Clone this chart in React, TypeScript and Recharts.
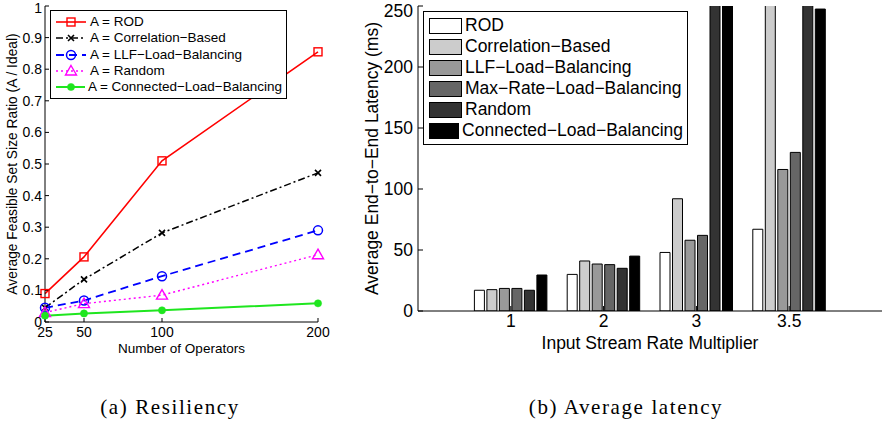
import React from "react";
import { LineChart, Line, BarChart, Bar, XAxis, YAxis, Legend } from "recharts";

// (a) resiliency: ratio of feasible set sizes vs number of operators
const operators = [25, 50, 100, 200];
const rodRatio = [0.09, 0.206, 0.51, 0.855];
const correlationRatio = [0.045, 0.135, 0.282, 0.472];
const llfRatio = [0.045, 0.068, 0.145, 0.29];
const randomRatio = [0.03, 0.058, 0.085, 0.213];
const connectedRatio = [0.02, 0.027, 0.037, 0.059];
const ratioTicks = [0, 0.1, 0.2, 0.3, 0.4, 0.5, 0.6, 0.7, 0.8, 0.9, 1];

// (b) average latency (ms) vs input rate multiplier (values > 250 run off the axis)
const rates = ["1", "2", "3", "3.5"];
const rodLatency = [17, 30, 48, 67];
const correlationLatency = [17.5, 41, 92, 300];
const llfLatency = [18.5, 38.5, 58, 116];
const maxRateLatency = [18.5, 38, 62, 130];
const randomLatency = [17, 35, 300, 300];
const connectedLatency = [29.5, 45, 300, 247.5];
const latencyTicks = [0, 50, 100, 150, 200, 250];

const ratioData = operators.map((ops, i) => ({
  ops,
  rod: rodRatio[i],
  correlation: correlationRatio[i],
  llf: llfRatio[i],
  random: randomRatio[i],
  connected: connectedRatio[i],
}));

const latencyData = rates.map((rate, i) => ({
  rate,
  rod: rodLatency[i],
  correlation: correlationLatency[i],
  llf: llfLatency[i],
  maxRate: maxRateLatency[i],
  random: randomLatency[i],
  connected: connectedLatency[i],
}));

const SANS = "'Liberation Sans', Arial, Helvetica, sans-serif";
const MINUS = "\u2212";

type MarkerType = "square" | "x" | "circle" | "triangle" | "dot";

const lineSeries: { key: string; name: string; color: string; dash?: string; width: number; marker: MarkerType }[] = [
  { key: "rod", name: "A = ROD", color: "#ff0000", width: 1.6, marker: "square" },
  { key: "correlation", name: `A = Correlation${MINUS}Based`, color: "#000000", dash: "7 3 2 3", width: 1.5, marker: "x" },
  { key: "llf", name: `A = LLF${MINUS}Load${MINUS}Balancing`, color: "#0000ff", dash: "8 5", width: 1.8, marker: "circle" },
  { key: "random", name: "A = Random", color: "#ff00ff", dash: "2 3", width: 1.4, marker: "triangle" },
  { key: "connected", name: `A = Connected${MINUS}Load${MINUS}Balancing`, color: "#1fe61f", width: 2, marker: "dot" },
];

const barSeries = [
  { key: "rod", name: "ROD", fill: "#ffffff" },
  { key: "correlation", name: `Correlation${MINUS}Based`, fill: "#cccccc" },
  { key: "llf", name: `LLF${MINUS}Load${MINUS}Balancing`, fill: "#999999" },
  { key: "maxRate", name: `Max${MINUS}Rate${MINUS}Load${MINUS}Balancing`, fill: "#666666" },
  { key: "random", name: "Random", fill: "#333333" },
  { key: "connected", name: `Connected${MINUS}Load${MINUS}Balancing`, fill: "#000000" },
];

function Marker({ type, cx, cy, color }: { type: MarkerType; cx: number; cy: number; color: string }) {
  switch (type) {
    case "square":
      return <rect x={cx - 4} y={cy - 4} width={8} height={8} fill="none" stroke={color} strokeWidth={1.4} />;
    case "x":
      return (
        <path
          d={`M${cx - 3},${cy - 3}L${cx + 3},${cy + 3}M${cx - 3},${cy + 3}L${cx + 3},${cy - 3}`}
          stroke={color}
          strokeWidth={1.6}
          fill="none"
        />
      );
    case "circle":
      return <circle cx={cx} cy={cy} r={4.5} fill="none" stroke={color} strokeWidth={1.5} />;
    case "triangle":
      return <path d={`M${cx},${cy - 5.5}L${cx + 5.5},${cy + 4}L${cx - 5.5},${cy + 4}Z`} fill="none" stroke={color} strokeWidth={1.4} />;
    default:
      return <circle cx={cx} cy={cy} r={3.6} fill={color} stroke={color} strokeWidth={0.5} />;
  }
}

function RatioLegend() {
  return (
    <div
      style={{
        border: "1.5px solid #000",
        background: "#fff",
        padding: "3px 4px 3px 4px",
        fontFamily: SANS,
        fontSize: 13.5,
        lineHeight: "16.3px",
        boxSizing: "border-box",
      }}
    >
      {lineSeries.map((s) => (
        <div key={s.key} style={{ display: "flex", alignItems: "center", whiteSpace: "nowrap" }}>
          <svg width={32} height={14} style={{ marginRight: 3 }}>
            <line x1={1} y1={7} x2={31} y2={7} stroke={s.color} strokeWidth={s.width} strokeDasharray={s.dash} />
            <Marker type={s.marker} cx={16} cy={7} color={s.color} />
          </svg>
          <span>{s.name}</span>
        </div>
      ))}
    </div>
  );
}

function LatencyLegend() {
  return (
    <div
      style={{
        border: "1.5px solid #000",
        background: "#fff",
        padding: "3px 4px 3px 5px",
        fontFamily: SANS,
        fontSize: 17.5,
        lineHeight: "21px",
        boxSizing: "border-box",
      }}
    >
      {barSeries.map((s) => (
        <div key={s.key} style={{ display: "flex", alignItems: "center", whiteSpace: "nowrap" }}>
          <span
            style={{
              display: "inline-block",
              width: 31,
              height: 14,
              background: s.fill,
              border: "1.5px solid #000",
              marginRight: 3,
            }}
          />
          <span>{s.name}</span>
        </div>
      ))}
    </div>
  );
}

function ResiliencyChart() {
  return (
    <LineChart
      width={330}
      height={360}
      data={ratioData}
      margin={{ top: 6, right: 12, bottom: 0, left: 0 }}
      style={{ fontFamily: SANS }}
    >
      <XAxis
        dataKey="ops"
        type="number"
        domain={[25, 200]}
        ticks={operators}
        height={38}
        stroke="#000"
        tickSize={-4}
        tickMargin={9}
        tick={{ fill: "#000", fontSize: 14 }}
        label={{ value: "Number of Operators", position: "insideBottom", offset: 7, fill: "#000", fontSize: 13.5 }}
      />
      <XAxis
        xAxisId="top"
        orientation="top"
        dataKey="ops"
        type="number"
        domain={[25, 200]}
        ticks={operators}
        height={0}
        stroke="#000"
        tickSize={-4}
        tick={false}
      />
      <YAxis
        type="number"
        domain={[0, 1]}
        ticks={ratioTicks}
        width={45}
        stroke="#000"
        tickSize={-4}
        tickMargin={7}
        tick={{ fill: "#000", fontSize: 14 }}
        label={{
          value: "Average Feasible Set Size Ratio (A / Ideal)",
          angle: -90,
          position: "insideLeft",
          offset: 12,
          fill: "#000",
          fontSize: 13.8,
          style: { textAnchor: "middle" },
        }}
      />
      <YAxis
        yAxisId="right"
        orientation="right"
        type="number"
        domain={[0, 1]}
        ticks={ratioTicks}
        width={0}
        stroke="#000"
        tickSize={-4}
        tick={false}
      />
      <Legend
        layout="vertical"
        align="center"
        verticalAlign="middle"
        content={() => <RatioLegend />}
        wrapperStyle={{ position: "absolute", left: 50, top: 10, width: 237, height: 87 }}
      />
      {lineSeries.map((s) => (
        <Line
          key={s.key}
          dataKey={s.key}
          name={s.name}
          type="linear"
          stroke={s.color}
          strokeWidth={s.width}
          strokeDasharray={s.dash}
          isAnimationActive={false}
          dot={(p: any) => <Marker key={`${s.key}-${p.index}`} type={s.marker} cx={p.cx} cy={p.cy} color={s.color} />}
        />
      ))}
    </LineChart>
  );
}

function LatencyChart() {
  return (
    <BarChart
      width={525}
      height={360}
      data={latencyData}
      margin={{ top: 6, right: 3, bottom: 0, left: 0 }}
      barSize={10}
      barGap={2.5}
      style={{ fontFamily: SANS }}
    >
      <XAxis
        dataKey="rate"
        padding={{ left: 46.4, right: 46.4 }}
        height={49}
        stroke="#000"
        tickSize={-5}
        tickMargin={9}
        tick={{ fill: "#000", fontSize: 17.5 }}
        label={{ value: "Input Stream Rate Multiplier", position: "insideBottom", offset: 11, fill: "#000", fontSize: 17.5 }}
      />
      <XAxis
        xAxisId="top"
        orientation="top"
        dataKey="rate"
        padding={{ left: 46.4, right: 46.4 }}
        height={0}
        stroke="#000"
        tickSize={-5}
        tick={false}
      />
      <YAxis
        type="number"
        domain={[0, 250]}
        ticks={latencyTicks}
        allowDataOverflow
        width={58}
        stroke="#000"
        tickSize={-5}
        tickMargin={10}
        tick={{ fill: "#000", fontSize: 17.5 }}
        label={{
          value: `Average End${MINUS}to${MINUS}End Latency (ms)`,
          angle: -90,
          position: "insideLeft",
          offset: 12,
          fill: "#000",
          fontSize: 17.5,
          style: { textAnchor: "middle" },
        }}
      />
      <YAxis
        yAxisId="right"
        orientation="right"
        type="number"
        domain={[0, 250]}
        ticks={latencyTicks}
        width={0}
        stroke="#000"
        tickSize={-5}
        tick={false}
      />
      <Legend
        layout="vertical"
        align="center"
        verticalAlign="middle"
        content={() => <LatencyLegend />}
        wrapperStyle={{ position: "absolute", left: 63, top: 11, width: 265, height: 130 }}
      />
      {barSeries.map((s) => (
        <Bar key={s.key} dataKey={s.key} name={s.name} fill={s.fill} stroke="#000" strokeWidth={1} isAnimationActive={false} />
      ))}
    </BarChart>
  );
}

const captionStyle: React.CSSProperties = {
  position: "absolute",
  top: 395,
  fontFamily: "'Liberation Serif', 'Times New Roman', serif",
  fontSize: 21,
  letterSpacing: 1.6,
  color: "#000",
  transform: "translateX(-50%)",
  whiteSpace: "nowrap",
};

export default function App() {
  return (
    <div style={{ position: "absolute", left: 0, top: 0, width: 885, height: 425, background: "#fff", overflow: "hidden" }}>
      <div style={{ position: "absolute", left: 0, top: 0 }}>
        <ResiliencyChart />
      </div>
      <div style={{ position: "absolute", left: 360, top: 0 }}>
        <LatencyChart />
      </div>
      <div style={{ ...captionStyle, left: 170 }}>(a) Resiliency</div>
      <div style={{ ...captionStyle, left: 626 }}>(b) Average latency</div>
    </div>
  );
}
